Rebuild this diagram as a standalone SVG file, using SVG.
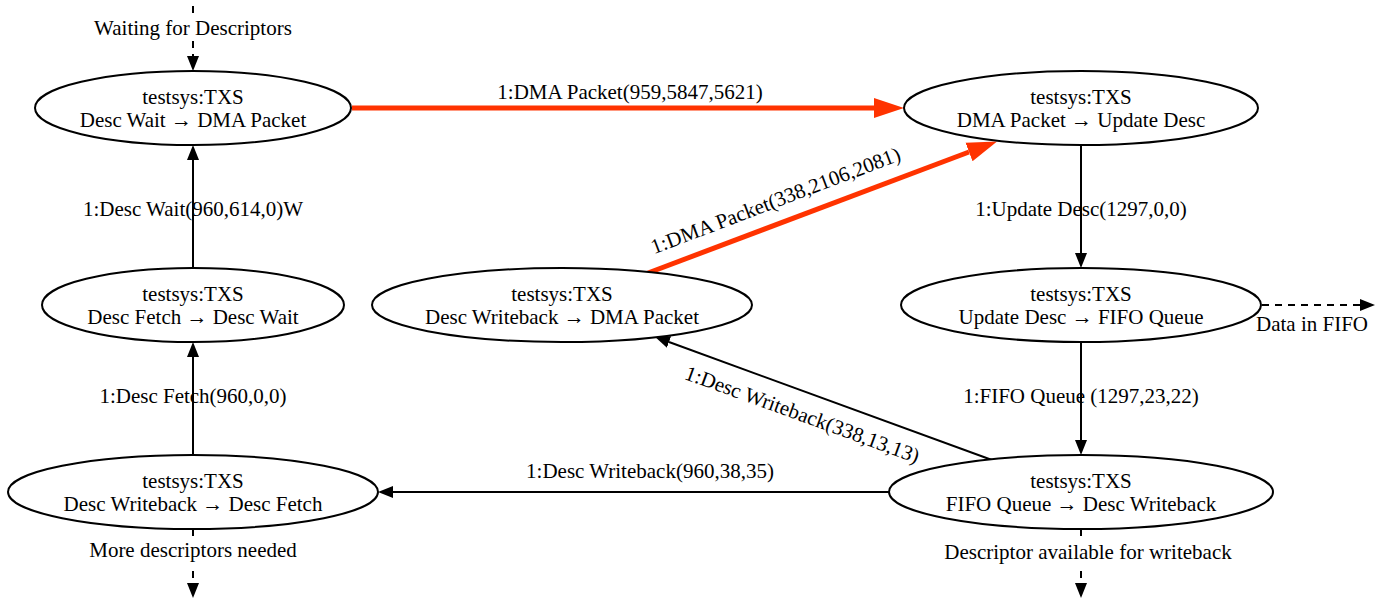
<svg xmlns="http://www.w3.org/2000/svg" width="1380" height="602" viewBox="0 0 1380 602">
<defs>
<style>
text{font-family:"Liberation Serif","Times New Roman",serif;font-size:21px;fill:#000;text-anchor:middle}
.node ellipse{fill:#fff;stroke:#000;stroke-width:2}
.e{fill:none;stroke:#000;stroke-width:2}
.d{stroke-dasharray:7,6}
.r{fill:none;stroke:#ff3300;stroke-width:5}
</style>
<marker id="ab" markerUnits="userSpaceOnUse" markerWidth="18" markerHeight="14" viewBox="0 -7 18 14" refX="0" refY="0" orient="auto"><path d="M0,-6 L15,0 L0,6 z" fill="#000"/></marker>
<marker id="ar" markerUnits="userSpaceOnUse" markerWidth="32" markerHeight="22" viewBox="0 -11 32 22" refX="0" refY="0" orient="auto"><path d="M0,-10 L30,0 L0,10 z" fill="#ff3300"/></marker>
</defs>
<rect width="1380" height="602" fill="#fff"/>
<g id="edges">
<path class="e d" d="M193,6 L193,16"/>
<path class="e d" d="M193,41 L193,56" marker-end="url(#ab)"/>
<text x="193" y="35">Waiting for Descriptors</text>
<path class="r" d="M352,108 L874,108" marker-end="url(#ar)"/>
<text x="630" y="99">1:DMA Packet(959,5847,5621)</text>
<path class="r" d="M648,273 L969,152" marker-end="url(#ar)"/>
<text transform="translate(778,207) rotate(-20.9)">1:DMA Packet(338,2106,2081)</text>
<path class="e" d="M1081,145 L1081,253" marker-end="url(#ab)"/>
<text x="1081" y="216">1:Update Desc(1297,0,0)</text>
<path class="e" d="M193,268 L193,160" marker-end="url(#ab)"/>
<text x="193" y="216">1:Desc Wait(960,614,0)W</text>
<path class="e d" d="M1262,305 L1360,305" marker-end="url(#ab)"/>
<text x="1312" y="331">Data in FIFO</text>
<path class="e" d="M193,455 L193,357" marker-end="url(#ab)"/>
<text x="193" y="403">1:Desc Fetch(960,0,0)</text>
<path class="e" d="M1081,342 L1081,440" marker-end="url(#ab)"/>
<text x="1081" y="403">1:FIFO Queue (1297,23,22)</text>
<path class="e" d="M992,460 L669,342" marker-end="url(#ab)"/>
<text transform="translate(800,421) rotate(20)">1:Desc Writeback(338,13,13)</text>
<path class="e" d="M889,492 L393,492" marker-end="url(#ab)"/>
<text x="650" y="478">1:Desc Writeback(960,38,35)</text>
<path class="e d" d="M193,529 L193,538"/>
<path class="e d" d="M193,571 L193,583" marker-end="url(#ab)"/>
<text x="193" y="557">More descriptors needed</text>
<path class="e d" d="M1081,529 L1081,538"/>
<path class="e d" d="M1081,571 L1081,583" marker-end="url(#ab)"/>
<text x="1088" y="559">Descriptor available for writeback</text>
</g>
<g id="n1" class="node"><ellipse cx="193" cy="108" rx="158" ry="37"/><text x="193" y="104">testsys:TXS</text><text x="193" y="127">Desc Wait → DMA Packet</text></g>
<g id="n2" class="node"><ellipse cx="1081" cy="108" rx="177" ry="37"/><text x="1081" y="104">testsys:TXS</text><text x="1081" y="127">DMA Packet → Update Desc</text></g>
<g id="n3" class="node"><ellipse cx="193" cy="305" rx="151" ry="37"/><text x="193" y="301">testsys:TXS</text><text x="193" y="324">Desc Fetch → Desc Wait</text></g>
<g id="n4" class="node"><ellipse cx="562" cy="305" rx="190" ry="37"/><text x="562" y="301">testsys:TXS</text><text x="562" y="324">Desc Writeback → DMA Packet</text></g>
<g id="n5" class="node"><ellipse cx="1081" cy="305" rx="180" ry="37"/><text x="1081" y="301">testsys:TXS</text><text x="1081" y="324">Update Desc → FIFO Queue</text></g>
<g id="n6" class="node"><ellipse cx="193" cy="492" rx="185" ry="37"/><text x="193" y="488">testsys:TXS</text><text x="193" y="511">Desc Writeback → Desc Fetch</text></g>
<g id="n7" class="node"><ellipse cx="1081" cy="492" rx="192" ry="37"/><text x="1081" y="488">testsys:TXS</text><text x="1081" y="511">FIFO Queue → Desc Writeback</text></g>
</svg>
